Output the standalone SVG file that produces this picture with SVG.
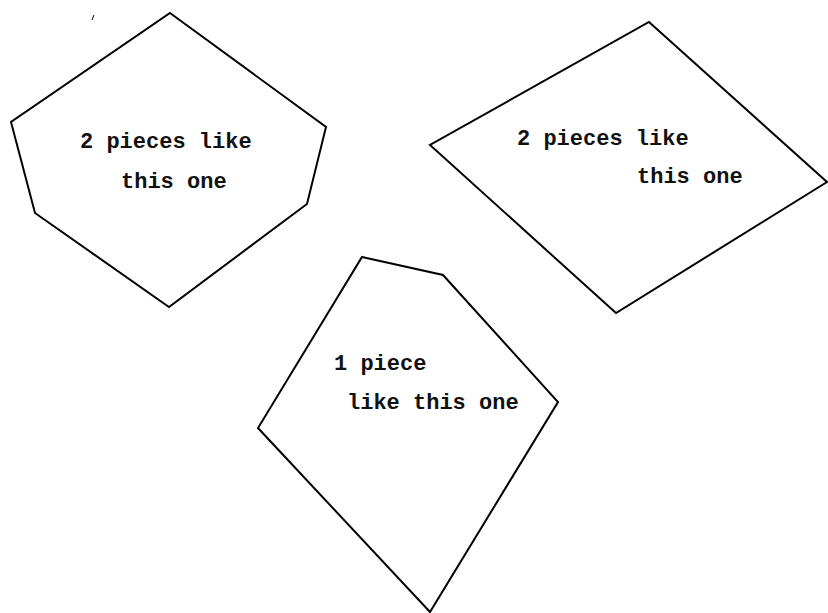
<svg xmlns="http://www.w3.org/2000/svg" width="828" height="613" viewBox="0 0 828 613">
<style>
.piece{fill:none;stroke:#000;stroke-width:2;stroke-linejoin:miter}
.lbl{font-family:"Liberation Mono","Courier New",monospace;font-size:22px;font-weight:bold;fill:#111}
</style>
<rect width="828" height="613" fill="#fff"/>
<line x1="92" y1="20" x2="94" y2="15" stroke="#000" stroke-width="1"/>
<g id="hexagon">
<polygon class="piece" points="170,13 326,127 307,204 169,307 35,213 11,122"/>
<text class="lbl" x="80" y="148">2 pieces like</text>
<text class="lbl" x="121" y="188">this one</text>
</g>
<g id="quadrilateral">
<polygon class="piece" points="649,22 827,182 616,313 430,145"/>
<text class="lbl" x="517" y="145">2 pieces like</text>
<text class="lbl" x="637" y="183">this one</text>
</g>
<g id="pentagon">
<polygon class="piece" points="362,257 443,275 558,402 430,612 258,428"/>
<text class="lbl" x="334" y="370">1 piece</text>
<text class="lbl" x="347" y="409">like this one</text>
</g>
</svg>
